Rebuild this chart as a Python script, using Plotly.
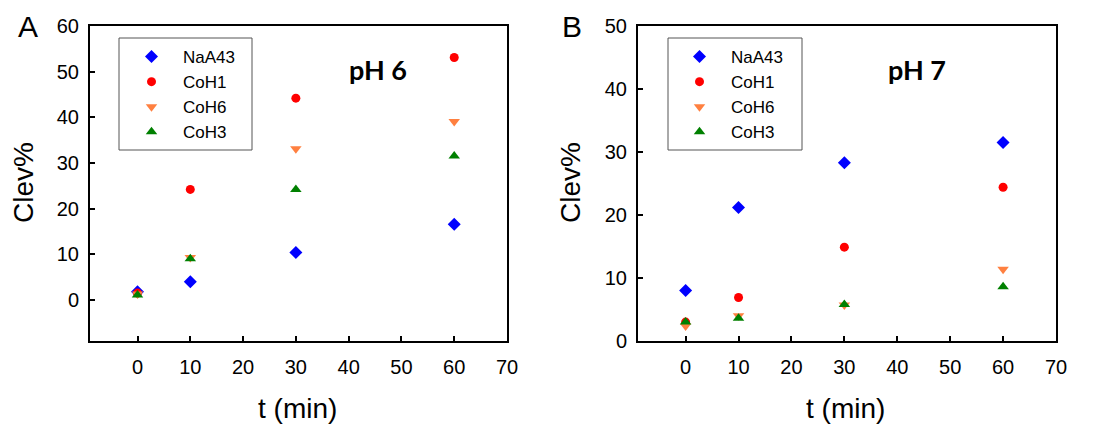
import plotly.graph_objects as go

W, H = 1094, 425

t = [0, 10, 30, 60]
series_names = ["NaA43", "CoH1", "CoH6", "CoH3"]

# pH 6 (panel A)
a_naa43 = [1.8, 4.0, 10.4, 16.6]
a_coh1 = [1.5, 24.2, 44.2, 53.1]
a_coh6 = [1.3, 9.3, 33.1, 39.1]
a_coh3 = [1.1, 9.0, 24.2, 31.5]

# pH 7 (panel B)
b_naa43 = [8.0, 21.2, 28.3, 31.5]
b_coh1 = [3.0, 6.9, 14.9, 24.4]
b_coh6 = [2.4, 4.0, 5.7, 11.4]
b_coh3 = [3.0, 3.6, 5.8, 8.6]

x_ticks = [0, 10, 20, 30, 40, 50, 60, 70]
a_y_ticks = [0, 10, 20, 30, 40, 50, 60]
b_y_ticks = [0, 10, 20, 30, 40, 50]

styles = {
    "NaA43": dict(symbol="diamond", color="#0000FF", size=10),
    "CoH1": dict(symbol="circle", color="#FF0000", size=9),
    "CoH6": dict(symbol="triangle-down", color="#FF8040", size=10),
    "CoH3": dict(symbol="triangle-up", color="#008000", size=10),
}

def px_x(p):
    return p / W

def px_y(p):
    return 1 - p / H

fig = go.Figure()

panel_a = [a_naa43, a_coh1, a_coh6, a_coh3]
panel_b = [b_naa43, b_coh1, b_coh6, b_coh3]

for name, vals in zip(series_names, panel_a):
    s = styles[name]
    fig.add_trace(go.Scatter(x=t, y=vals, mode="markers", name=name,
                             marker=dict(symbol=s["symbol"], color=s["color"], size=s["size"]),
                             xaxis="x", yaxis="y", legend="legend"))
for name, vals in zip(series_names, panel_b):
    s = styles[name]
    fig.add_trace(go.Scatter(x=t, y=vals, mode="markers", name=name,
                             marker=dict(symbol=s["symbol"], color=s["color"], size=s["size"]),
                             xaxis="x2", yaxis="y2", legend="legend2"))

tickfont = dict(family="Liberation Sans, Arial", size=20, color="black")
axis_common = dict(showline=True, linecolor="black", linewidth=2, mirror=True,
                   ticks="inside", ticklen=5, tickwidth=1.5, tickcolor="black",
                   showgrid=False, zeroline=False, tickfont=tickfont, automargin=False)

ydom = [px_y(341), px_y(26)]
legend_font = dict(family="Liberation Sans, Arial", size=17, color="black")
fig.update_layout(
    template="none",
    width=W, height=H,
    margin=dict(l=0, r=0, t=0, b=0, autoexpand=False),
    paper_bgcolor="white", plot_bgcolor="white",
    xaxis=dict(domain=[px_x(90), px_x(507)], range=[-9, 70], tickvals=x_ticks,
               anchor="y", ticklabelstandoff=7, **axis_common),
    yaxis=dict(domain=ydom, range=[-9, 60], tickvals=a_y_ticks,
               anchor="x", ticklabelstandoff=5, **axis_common),
    xaxis2=dict(domain=[px_x(638), px_x(1056)], range=[-9, 70], tickvals=x_ticks,
                anchor="y2", ticklabelstandoff=7, **axis_common),
    yaxis2=dict(domain=ydom, range=[0, 50], tickvals=b_y_ticks,
                anchor="x2", ticklabelstandoff=5, **axis_common),
    legend=dict(x=px_x(120), y=px_y(39), xanchor="left", yanchor="top",
                bgcolor="rgba(0,0,0,0)", borderwidth=0, itemwidth=53,
                font=legend_font, tracegroupgap=0),
    legend2=dict(x=px_x(668), y=px_y(39), xanchor="left", yanchor="top",
                 bgcolor="rgba(0,0,0,0)", borderwidth=0, itemwidth=53,
                 font=legend_font, tracegroupgap=0),
    showlegend=True,
)

# legend boxes
for x0, x1 in [(119, 252), (668, 802)]:
    fig.add_shape(type="rect", xref="paper", yref="paper",
                  x0=px_x(x0), x1=px_x(x1), y0=px_y(150), y1=px_y(38),
                  line=dict(color="#555555", width=1), fillcolor="rgba(0,0,0,0)", layer="above")

title_font = dict(family="Liberation Sans, Arial", size=28, color="black")
ann = [
    dict(text="A", x=px_x(28), y=px_y(27), font=dict(family="Liberation Sans, Arial", size=30, color="black")),
    dict(text="B", x=px_x(572), y=px_y(27), font=dict(family="Liberation Sans, Arial", size=30, color="black")),
    dict(text="Clev%", x=px_x(23), y=px_y(183), textangle=-90, font=title_font),
    dict(text="Clev%", x=px_x(570), y=px_y(183), textangle=-90, font=title_font),
    dict(text="t (min)", x=px_x(298), y=px_y(408), font=title_font),
    dict(text="t (min)", x=px_x(845), y=px_y(408), font=title_font),
    dict(text="<b>pH 6</b>", x=px_x(378), y=px_y(70), font=dict(family="Lato", size=27, color="black")),
    dict(text="<b>pH 7</b>", x=px_x(917), y=px_y(70), font=dict(family="Lato", size=27, color="black")),
]
for a in ann:
    fig.add_annotation(xref="paper", yref="paper", xanchor="center", yanchor="middle",
                       showarrow=False, **a)

fig.write_html("out.html")
